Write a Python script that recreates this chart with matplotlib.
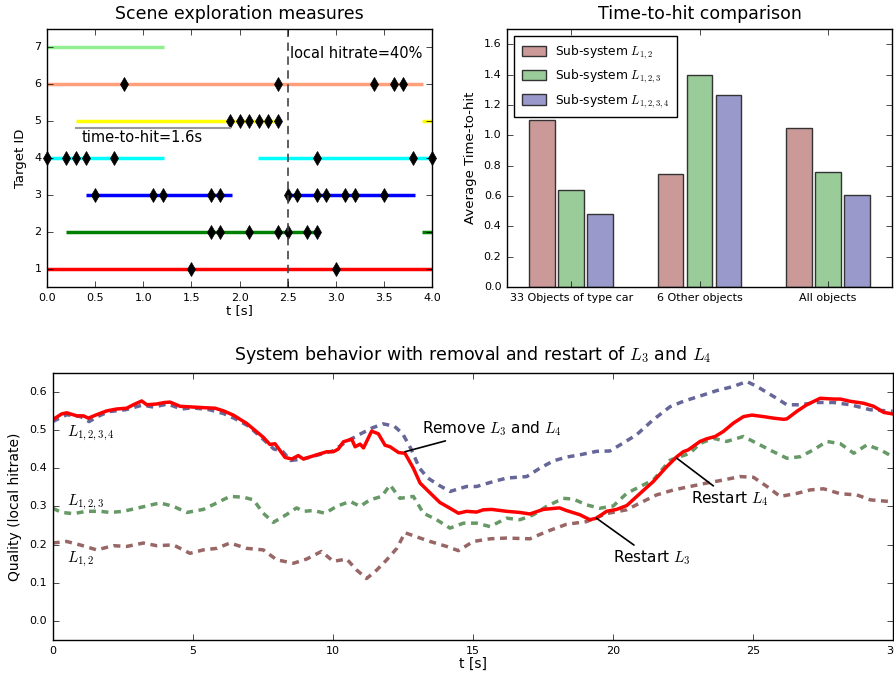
import numpy as np
import matplotlib
matplotlib.use("Agg")
import matplotlib.pyplot as plt

plt.style.use("classic")
plt.rcParams["figure.facecolor"] = "white"
plt.rcParams["savefig.facecolor"] = "white"
plt.rcParams["font.family"] = ["DejaVu Sans"]
plt.rcParams["mathtext.fontset"] = "cm"

# --- scene exploration data (target id -> segments and hits) ---
target_colors = {7: "#90EE90", 6: "#FFA07A", 5: "#FFFF00", 4: "#00FFFF",
                 3: "#0000FF", 2: "#008000", 1: "#FF0000"}
segments = {
    7: [(0.0, 1.22)],
    6: [(0.0, 3.91)],
    5: [(0.3, 2.4), (3.9, 4.0)],
    4: [(0.0, 1.22), (2.19, 4.0)],
    3: [(0.4, 1.92), (2.5, 3.82)],
    2: [(0.2, 2.8), (3.9, 4.0)],
    1: [(0.0, 4.0)],
}
hits = {
    7: [],
    6: [0.8, 2.4, 3.4, 3.6, 3.7],
    5: [1.9, 2.0, 2.1, 2.2, 2.3, 2.4],
    4: [0.0, 0.2, 0.3, 0.4, 0.7, 2.8, 3.8, 4.0],
    3: [0.5, 1.1, 1.2, 1.7, 1.8, 2.5, 2.6, 2.8, 2.9, 3.1, 3.2, 3.5],
    2: [1.7, 1.8, 2.1, 2.4, 2.5, 2.7, 2.8],
    1: [1.5, 3.0],
}

# --- time-to-hit bars ---
groups = ["33 Objects of type car", "6 Other objects", "All objects"]
tth_l12 = [1.10, 0.745, 1.045]
tth_l123 = [0.64, 1.40, 0.757]
tth_l1234 = [0.48, 1.265, 0.605]

# --- system behaviour curves ---
t_red = [0.0, 0.32, 0.5, 0.86, 1.1, 1.27, 1.57, 1.93, 2.29, 2.64, 2.88, 3.18, 3.36,
         3.71, 4.0, 4.19, 4.55, 5.02, 5.5, 5.8, 6.1, 6.45, 6.93, 7.29, 7.52, 7.76,
         7.94, 8.12, 8.3, 8.54, 8.77, 8.95, 9.43, 9.79, 10.02, 10.2, 10.38, 10.68,
         10.8, 10.98, 11.1, 11.39, 11.63, 11.87, 12.05, 12.35, 12.58, 12.88, 13.12,
         13.48, 13.83, 14.19, 14.49, 14.78, 15.14, 15.38, 15.68, 16.21, 16.69,
         17.04, 17.52, 18.1, 18.35, 18.83, 19.18, 19.42, 19.78, 20.14, 20.5, 20.98,
         21.45, 21.93, 22.29, 22.52, 22.7, 23.12, 23.36, 23.66, 23.95, 24.31, 24.67,
         24.97, 25.39, 25.74, 26.1, 26.22, 26.58, 26.93, 27.41, 27.89, 28.13, 28.49,
         28.96, 29.32, 29.68, 30.0]
q_red = [0.527, 0.542, 0.545, 0.537, 0.537, 0.531, 0.540, 0.550, 0.555, 0.557, 0.566,
         0.576, 0.566, 0.568, 0.572, 0.573, 0.562, 0.560, 0.558, 0.557, 0.550, 0.539,
         0.517, 0.495, 0.481, 0.462, 0.464, 0.446, 0.428, 0.424, 0.433, 0.424, 0.435,
         0.443, 0.443, 0.450, 0.469, 0.476, 0.456, 0.463, 0.453, 0.497, 0.490, 0.460,
         0.456, 0.441, 0.439, 0.400, 0.361, 0.335, 0.310, 0.295, 0.282, 0.287, 0.285,
         0.291, 0.292, 0.287, 0.284, 0.280, 0.292, 0.296, 0.289, 0.278, 0.265, 0.269,
         0.287, 0.292, 0.302, 0.334, 0.365, 0.404, 0.430, 0.443, 0.448, 0.470, 0.477,
         0.483, 0.496, 0.518, 0.535, 0.539, 0.535, 0.531, 0.528, 0.529, 0.549, 0.566,
         0.583, 0.581, 0.581, 0.575, 0.570, 0.562, 0.546, 0.542]

t_l1234 = [0.0, 0.5, 1.0, 1.3, 1.6, 2.0, 2.6, 3.2, 3.6, 4.1, 4.6, 5.0, 5.6, 6.1, 6.5,
           7.0, 7.3, 7.9, 8.2, 8.5, 9.0, 9.5, 10.0, 10.5, 11.0, 11.4, 11.8, 12.2, 12.5,
           12.8, 13.1, 13.4, 13.8, 14.19, 14.78, 15.14, 15.74, 16.21, 16.93, 17.4,
           17.88, 18.35, 18.83, 19.42, 19.9, 20.38, 20.86, 21.45, 22.05, 22.52, 23.12,
           23.71, 24.31, 24.79, 25.15, 25.74, 26.22, 26.7, 27.29, 27.89, 28.49, 29.2,
           30.0]
q_l1234 = [0.522, 0.54, 0.535, 0.522, 0.535, 0.548, 0.553, 0.565, 0.56, 0.568, 0.555,
           0.558, 0.553, 0.543, 0.53, 0.51, 0.49, 0.45, 0.445, 0.42, 0.425, 0.435,
           0.445, 0.47, 0.49, 0.505, 0.516, 0.51, 0.49, 0.45, 0.40, 0.374, 0.355,
           0.339, 0.352, 0.352, 0.365, 0.374, 0.378, 0.400, 0.419, 0.429, 0.435, 0.444,
           0.445, 0.466, 0.488, 0.527, 0.561, 0.575, 0.589, 0.603, 0.614, 0.627, 0.614,
           0.588, 0.566, 0.566, 0.572, 0.572, 0.566, 0.553, 0.549]

t_l123 = [0.0, 0.32, 0.74, 1.21, 1.69, 2.05, 2.52, 3.12, 3.83, 4.31, 4.79, 5.38, 5.86,
          6.33, 6.81, 7.17, 7.52, 7.88, 8.36, 8.71, 8.95, 9.31, 9.73, 10.14, 10.62,
          10.98, 11.33, 11.75, 12.05, 12.4, 12.88, 13.24, 13.71, 14.19, 14.67, 15.14,
          15.62, 16.21, 16.69, 17.17, 17.64, 18.23, 18.6, 19.06, 19.54, 20.02, 20.5,
          20.98, 21.45, 22.05, 22.4, 22.76, 23.12, 23.6, 24.07, 24.67, 25.15, 25.74,
          26.22, 26.7, 27.17, 27.65, 28.13, 28.61, 29.08, 29.56, 30.0]
q_l123 = [0.295, 0.284, 0.281, 0.287, 0.287, 0.284, 0.287, 0.297, 0.309, 0.300, 0.284,
          0.292, 0.309, 0.326, 0.324, 0.317, 0.282, 0.258, 0.279, 0.296, 0.287, 0.289,
          0.282, 0.300, 0.313, 0.300, 0.317, 0.326, 0.356, 0.321, 0.326, 0.282, 0.265,
          0.243, 0.256, 0.256, 0.247, 0.269, 0.265, 0.278, 0.300, 0.321, 0.319, 0.304,
          0.295, 0.301, 0.334, 0.352, 0.369, 0.421, 0.430, 0.439, 0.465, 0.478, 0.470,
          0.483, 0.465, 0.443, 0.426, 0.430, 0.448, 0.470, 0.464, 0.439, 0.461, 0.448,
          0.430]

t_l12 = [0.0, 0.5, 0.98, 1.57, 2.17, 2.64, 3.24, 3.71, 4.31, 4.9, 5.38, 5.86, 6.33,
         6.93, 7.52, 8.0, 8.6, 9.07, 9.6, 10.02, 10.5, 10.86, 11.21, 11.57, 11.93,
         12.29, 12.58, 13.0, 13.48, 14.07, 14.49, 15.02, 15.62, 16.21, 17.04, 17.64,
         18.35, 19.06, 19.78, 20.5, 20.98, 21.57, 22.17, 22.76, 23.36, 23.95, 24.55,
         25.03, 25.51, 25.98, 26.58, 27.05, 27.53, 28.13, 28.72, 29.2, 30.0]
q_l12 = [0.204, 0.208, 0.199, 0.186, 0.197, 0.195, 0.204, 0.197, 0.199, 0.177, 0.186,
         0.190, 0.204, 0.190, 0.186, 0.160, 0.151, 0.162, 0.182, 0.156, 0.162, 0.133,
         0.111, 0.133, 0.160, 0.190, 0.231, 0.220, 0.208, 0.195, 0.184, 0.208, 0.215,
         0.217, 0.215, 0.234, 0.253, 0.260, 0.281, 0.291, 0.309, 0.330, 0.343, 0.352,
         0.361, 0.369, 0.378, 0.376, 0.352, 0.326, 0.334, 0.343, 0.346, 0.333, 0.330,
         0.317, 0.312]

fig = plt.figure(figsize=(8.94, 6.77), dpi=100)

# ---------------- scene exploration ----------------
ax1 = fig.add_axes([47 / 894, 1 - 287 / 677, 385 / 894, 258 / 677])
for tid, segs in segments.items():
    for a, b in segs:
        ax1.plot([a, b], [tid, tid], color=target_colors[tid], lw=2.5,
                 solid_capstyle="butt")
for tid, hx in hits.items():
    if hx:
        ax1.plot(hx, [tid] * len(hx), "d", color="black", markersize=7,
                 markeredgecolor="black", clip_on=False)
ax1.plot([0.3, 1.9], [4.81, 4.81], color="#999999", lw=1.5)
ax1.text(0.36, 4.55, "time-to-hit=1.6s", fontsize=10.5, va="center")
ax1.axvline(2.5, color="#444444", lw=1.2, ls="--", dashes=(6, 4))
ax1.text(2.52, 6.83, "local hitrate=40%", fontsize=10.5, va="center")
ax1.set_xlim(0, 4)
ax1.set_ylim(0.5, 7.5)
ax1.set_xticks(np.arange(0, 4.01, 0.5))
ax1.set_yticks(range(1, 8))
ax1.tick_params(labelsize=8)
ax1.set_xlabel("t [s]", fontsize=9.5, labelpad=1)
ax1.set_ylabel("Target ID", fontsize=9.5)
ax1.set_title("Scene exploration measures", fontsize=12.5, y=1.01)

# ---------------- time-to-hit ----------------
ax2 = fig.add_axes([507 / 894, 1 - 287 / 677, 385 / 894, 258 / 677])
x = np.arange(len(groups))
w = 0.2
off = 0.227
ax2.bar(x - off, tth_l12, w, align="center", color="#CC9999", edgecolor="#333333",
        label=r"Sub-system $L_{1,2}$")
ax2.bar(x, tth_l123, w, align="center", color="#99CC99", edgecolor="#333333",
        label=r"Sub-system $L_{1,2,3}$")
ax2.bar(x + off, tth_l1234, w, align="center", color="#9999CC", edgecolor="#333333",
        label=r"Sub-system $L_{1,2,3,4}$")
ax2.set_xlim(-0.5, 2.5)
ax2.set_ylim(0, 1.7)
ax2.set_yticks(np.arange(0, 1.61, 0.2))
ax2.set_xticks(x)
ax2.set_xticklabels(groups)
ax2.tick_params(labelsize=8)
ax2.set_ylabel("Average Time-to-hit", fontsize=9.5)
ax2.set_title("Time-to-hit comparison", fontsize=12.5, y=1.01)
ax2.legend(loc="upper left", fontsize=8.8, frameon=True, fancybox=False,
           borderpad=0.6, labelspacing=0.55, handlelength=2.0, handleheight=0.9,
           handletextpad=0.7, borderaxespad=0.6)

# ---------------- system behaviour ----------------
ax3 = fig.add_axes([52.7 / 894, 1 - 640 / 677, 840 / 894, 267.3 / 677])
ax3.plot(t_l1234, q_l1234, color="#666699", lw=2.5, ls="--", dashes=(5, 4))
ax3.plot(t_l123, q_l123, color="#669966", lw=2.5, ls="--", dashes=(5, 4))
ax3.plot(t_l12, q_l12, color="#996666", lw=2.5, ls="--", dashes=(5, 4))
ax3.plot(t_red, q_red, color="red", lw=2.5)
ax3.text(0.5, 0.49, r"$L_{1,2,3,4}$", fontsize=11, va="center")
ax3.text(0.5, 0.31, r"$L_{1,2,3}$", fontsize=11, va="center")
ax3.text(0.5, 0.16, r"$L_{1,2}$", fontsize=11, va="center")
arrow = dict(arrowstyle="-", color="black", lw=1.2, shrinkA=0, shrinkB=0)
ax3.annotate(r"Remove $L_3$ and $L_4$", xy=(12.58, 0.443), xytext=(13.2, 0.48),
             fontsize=11, va="bottom", ha="left", arrowprops=arrow)
ax3.annotate(r"Restart $L_4$", xy=(22.29, 0.426), xytext=(22.8, 0.345),
             fontsize=11, va="top", ha="left", arrowprops=arrow)
ax3.annotate(r"Restart $L_3$", xy=(19.42, 0.269), xytext=(20.0, 0.19),
             fontsize=11, va="top", ha="left", arrowprops=arrow)
ax3.set_xlim(0, 30)
ax3.set_ylim(-0.05, 0.65)
ax3.set_xticks(range(0, 31, 5))
ax3.set_yticks(np.arange(0, 0.61, 0.1))
ax3.tick_params(labelsize=8)
ax3.set_xlabel("t [s]", fontsize=10, labelpad=1)
ax3.set_ylabel("Quality (local hitrate)", fontsize=10)
ax3.set_title(r"System behavior with removal and restart of $L_3$ and $L_4$",
              fontsize=12.5, y=1.02)

fig.savefig("out.png", dpi=100)
